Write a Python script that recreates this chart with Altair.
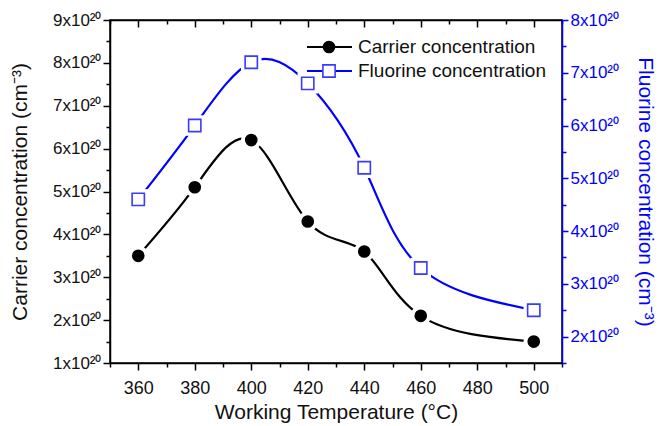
import altair as alt
import pandas as pd

# ---- data (values in units of 1e20 cm^-3) ----
temps = [360, 380, 400, 420, 440, 460, 500]
carrier = [3.5, 5.1, 6.2, 4.3, 3.6, 2.1, 1.5]
fluorine = [4.6, 6.0, 7.2, 6.8, 5.2, 3.3, 2.5]
series = ["Carrier concentration", "Fluorine concentration"]

x_major = [360, 380, 400, 420, 440, 460, 480, 500]
x_minor = [350, 370, 390, 410, 430, 450, 470, 490, 510]
left_major = [1, 2, 3, 4, 5, 6, 7, 8, 9]
left_minor = [1.5, 2.5, 3.5, 4.5, 5.5, 6.5, 7.5, 8.5]
right_major = [2, 3, 4, 5, 6, 7, 8]
right_minor = [1.5, 2.5, 3.5, 4.5, 5.5, 6.5, 7.5]

df = pd.DataFrame({"T": temps, "carrier": carrier, "fluorine": fluorine})

FONT = "Liberation Sans"
BLUE = "#0000ff"
W, H = 452, 343

xs = alt.Scale(domain=[350, 510], nice=False, zero=False)
ls = alt.Scale(domain=[1, 9], nice=False, zero=False)
rs = alt.Scale(domain=[1.5, 8], nice=False, zero=False)

LBL = "datum.value + 'x10²⁰'"

base = alt.Chart(df)

# --- axes layers ---
x_main = alt.X("T:Q", scale=xs, axis=alt.Axis(
    orient="bottom", values=x_major, title="Working Temperature (°C)",
    tickSize=7, tickColor="black", domainColor="black", labelColor="#111",
    labelFont=FONT, labelFontSize=18, titleFont=FONT, titleFontSize=21,
    titleFontWeight="normal", titleColor="#111", labelPadding=9, titlePadding=4,
    grid=False, domainWidth=1.5, tickWidth=1.5))
x_minor_ax = alt.X("T:Q", scale=xs, axis=alt.Axis(
    orient="bottom", values=x_minor, labels=False, title=None, tickSize=4,
    tickColor="black", domain=False, grid=False, tickWidth=1.5))
x_top = alt.X("T:Q", scale=xs, axis=alt.Axis(
    orient="bottom", offset=-H, values=x_major, labels=False, title=None,
    tickSize=7, tickColor="black", domainColor="black", grid=False,
    domainWidth=1.5, tickWidth=1.5))
x_top_minor = alt.X("T:Q", scale=xs, axis=alt.Axis(
    orient="bottom", offset=-H, values=x_minor, labels=False, title=None,
    tickSize=4, tickColor="black", domain=False, grid=False, tickWidth=1.5))
x_none = alt.X("T:Q", scale=xs, axis=None)

yl_main = alt.Y("carrier:Q", scale=ls, axis=alt.Axis(
    orient="left", values=left_major, labelExpr=LBL,
    title="Carrier concentration (cm⁻³)", tickSize=7, tickColor="black",
    domainColor="black", labelColor="#111", labelFont=FONT, labelFontSize=17,
    titleFont=FONT, titleFontSize=21, titleFontWeight="normal", titleColor="#111",
    labelPadding=2, titlePadding=22, grid=False, domainWidth=1.5, tickWidth=1.5))
yl_minor = alt.Y("carrier:Q", scale=ls, axis=alt.Axis(
    orient="left", values=left_minor, labels=False, title=None, tickSize=4,
    tickColor="black", domain=False, grid=False, tickWidth=1.5))
yl_none = alt.Y("carrier:Q", scale=ls, axis=None)

yr_main = alt.Y("fluorine:Q", scale=rs, axis=alt.Axis(
    orient="right", values=right_major, labelExpr=LBL,
    title="Fluorine concentration (cm⁻³)", tickSize=6, tickColor=BLUE,
    domainColor=BLUE, labelColor=BLUE, labelFont=FONT, labelFontSize=17,
    titleFont=FONT, titleFontSize=21, titleFontWeight="normal", titleColor=BLUE,
    labelPadding=2, titlePadding=16, grid=False, domainWidth=1.5, tickWidth=1.5))
yr_minor = alt.Y("fluorine:Q", scale=rs, axis=alt.Axis(
    orient="right", values=right_minor, labels=False, title=None, tickSize=4,
    tickColor=BLUE, domain=False, grid=False, tickWidth=1.5))
yr_none = alt.Y("fluorine:Q", scale=rs, axis=None)

inv = dict(opacity=0)

ax1 = base.mark_point(**inv).encode(x=x_main, y=yl_main)
ax2 = base.mark_point(**inv).encode(x=x_minor_ax, y=yl_minor)
ax3 = base.mark_point(**inv).encode(x=x_top, y=yl_none)
ax4 = base.mark_point(**inv).encode(x=x_top_minor, y=yl_none)
ax5 = base.mark_point(**inv).encode(x=x_none, y=yr_main)
ax6 = base.mark_point(**inv).encode(x=x_none, y=yr_minor)

# --- data layers ---
c_line = base.mark_line(interpolate="natural", color="black", strokeWidth=2.2).encode(x=x_none, y=yl_none)
f_line = base.mark_line(interpolate="natural", color=BLUE, strokeWidth=2.2).encode(x=x_none, y=yr_none)
c_halo = base.mark_point(shape="circle", filled=True, color="white", size=420, opacity=1).encode(x=x_none, y=yl_none)
f_halo = base.mark_point(shape="square", filled=True, color="white", size=420, opacity=1).encode(x=x_none, y=yr_none)
c_pts = base.mark_point(shape="circle", filled=True, color="black", size=160, opacity=1).encode(x=x_none, y=yl_none)
f_pts = base.mark_point(shape="square", filled=True, fill="white", stroke="#3a3aff",
                        strokeWidth=1.6, size=150, opacity=1).encode(x=x_none, y=yr_none)

# --- manual legend ---
leg_layers = []
leg_rows = [27, 51]
leg_colors = ["black", BLUE]
for i, name in enumerate(series):
    ld = alt.Chart(pd.DataFrame({"name": [name]}))
    yy = alt.value(leg_rows[i])
    leg_layers.append(ld.mark_rule(color=leg_colors[i], strokeWidth=2.2).encode(
        x=alt.value(197), x2=alt.value(242), y=yy))
    if i == 0:
        leg_layers.append(ld.mark_point(shape="circle", filled=True, color="black",
                                        size=160, opacity=1).encode(x=alt.value(219), y=yy))
    else:
        leg_layers.append(ld.mark_point(shape="square", filled=True, fill="white",
                                        stroke="#3a3aff", strokeWidth=1.6, size=150,
                                        opacity=1).encode(x=alt.value(219), y=yy))
    leg_layers.append(ld.mark_text(align="left", baseline="middle", font=FONT,
                                   fontSize=19, color="#111").encode(
        x=alt.value(248), y=yy, text="name:N"))

chart = alt.layer(
    ax1, ax2, ax3, ax4, ax5, ax6,
    c_line, f_line, c_halo, f_halo, c_pts, f_pts,
    *leg_layers
).resolve_scale(y="independent").resolve_axis(x="independent", y="independent").properties(
    width=W, height=H,
    autosize=alt.AutoSizeParams(type="none"),
    padding={"left": 110, "top": 20, "right": 97, "bottom": 63},
    background="white",
).configure_view(stroke="black", strokeWidth=1.5)

chart.save("out.html", embed_options={"renderer": "svg", "actions": False})
